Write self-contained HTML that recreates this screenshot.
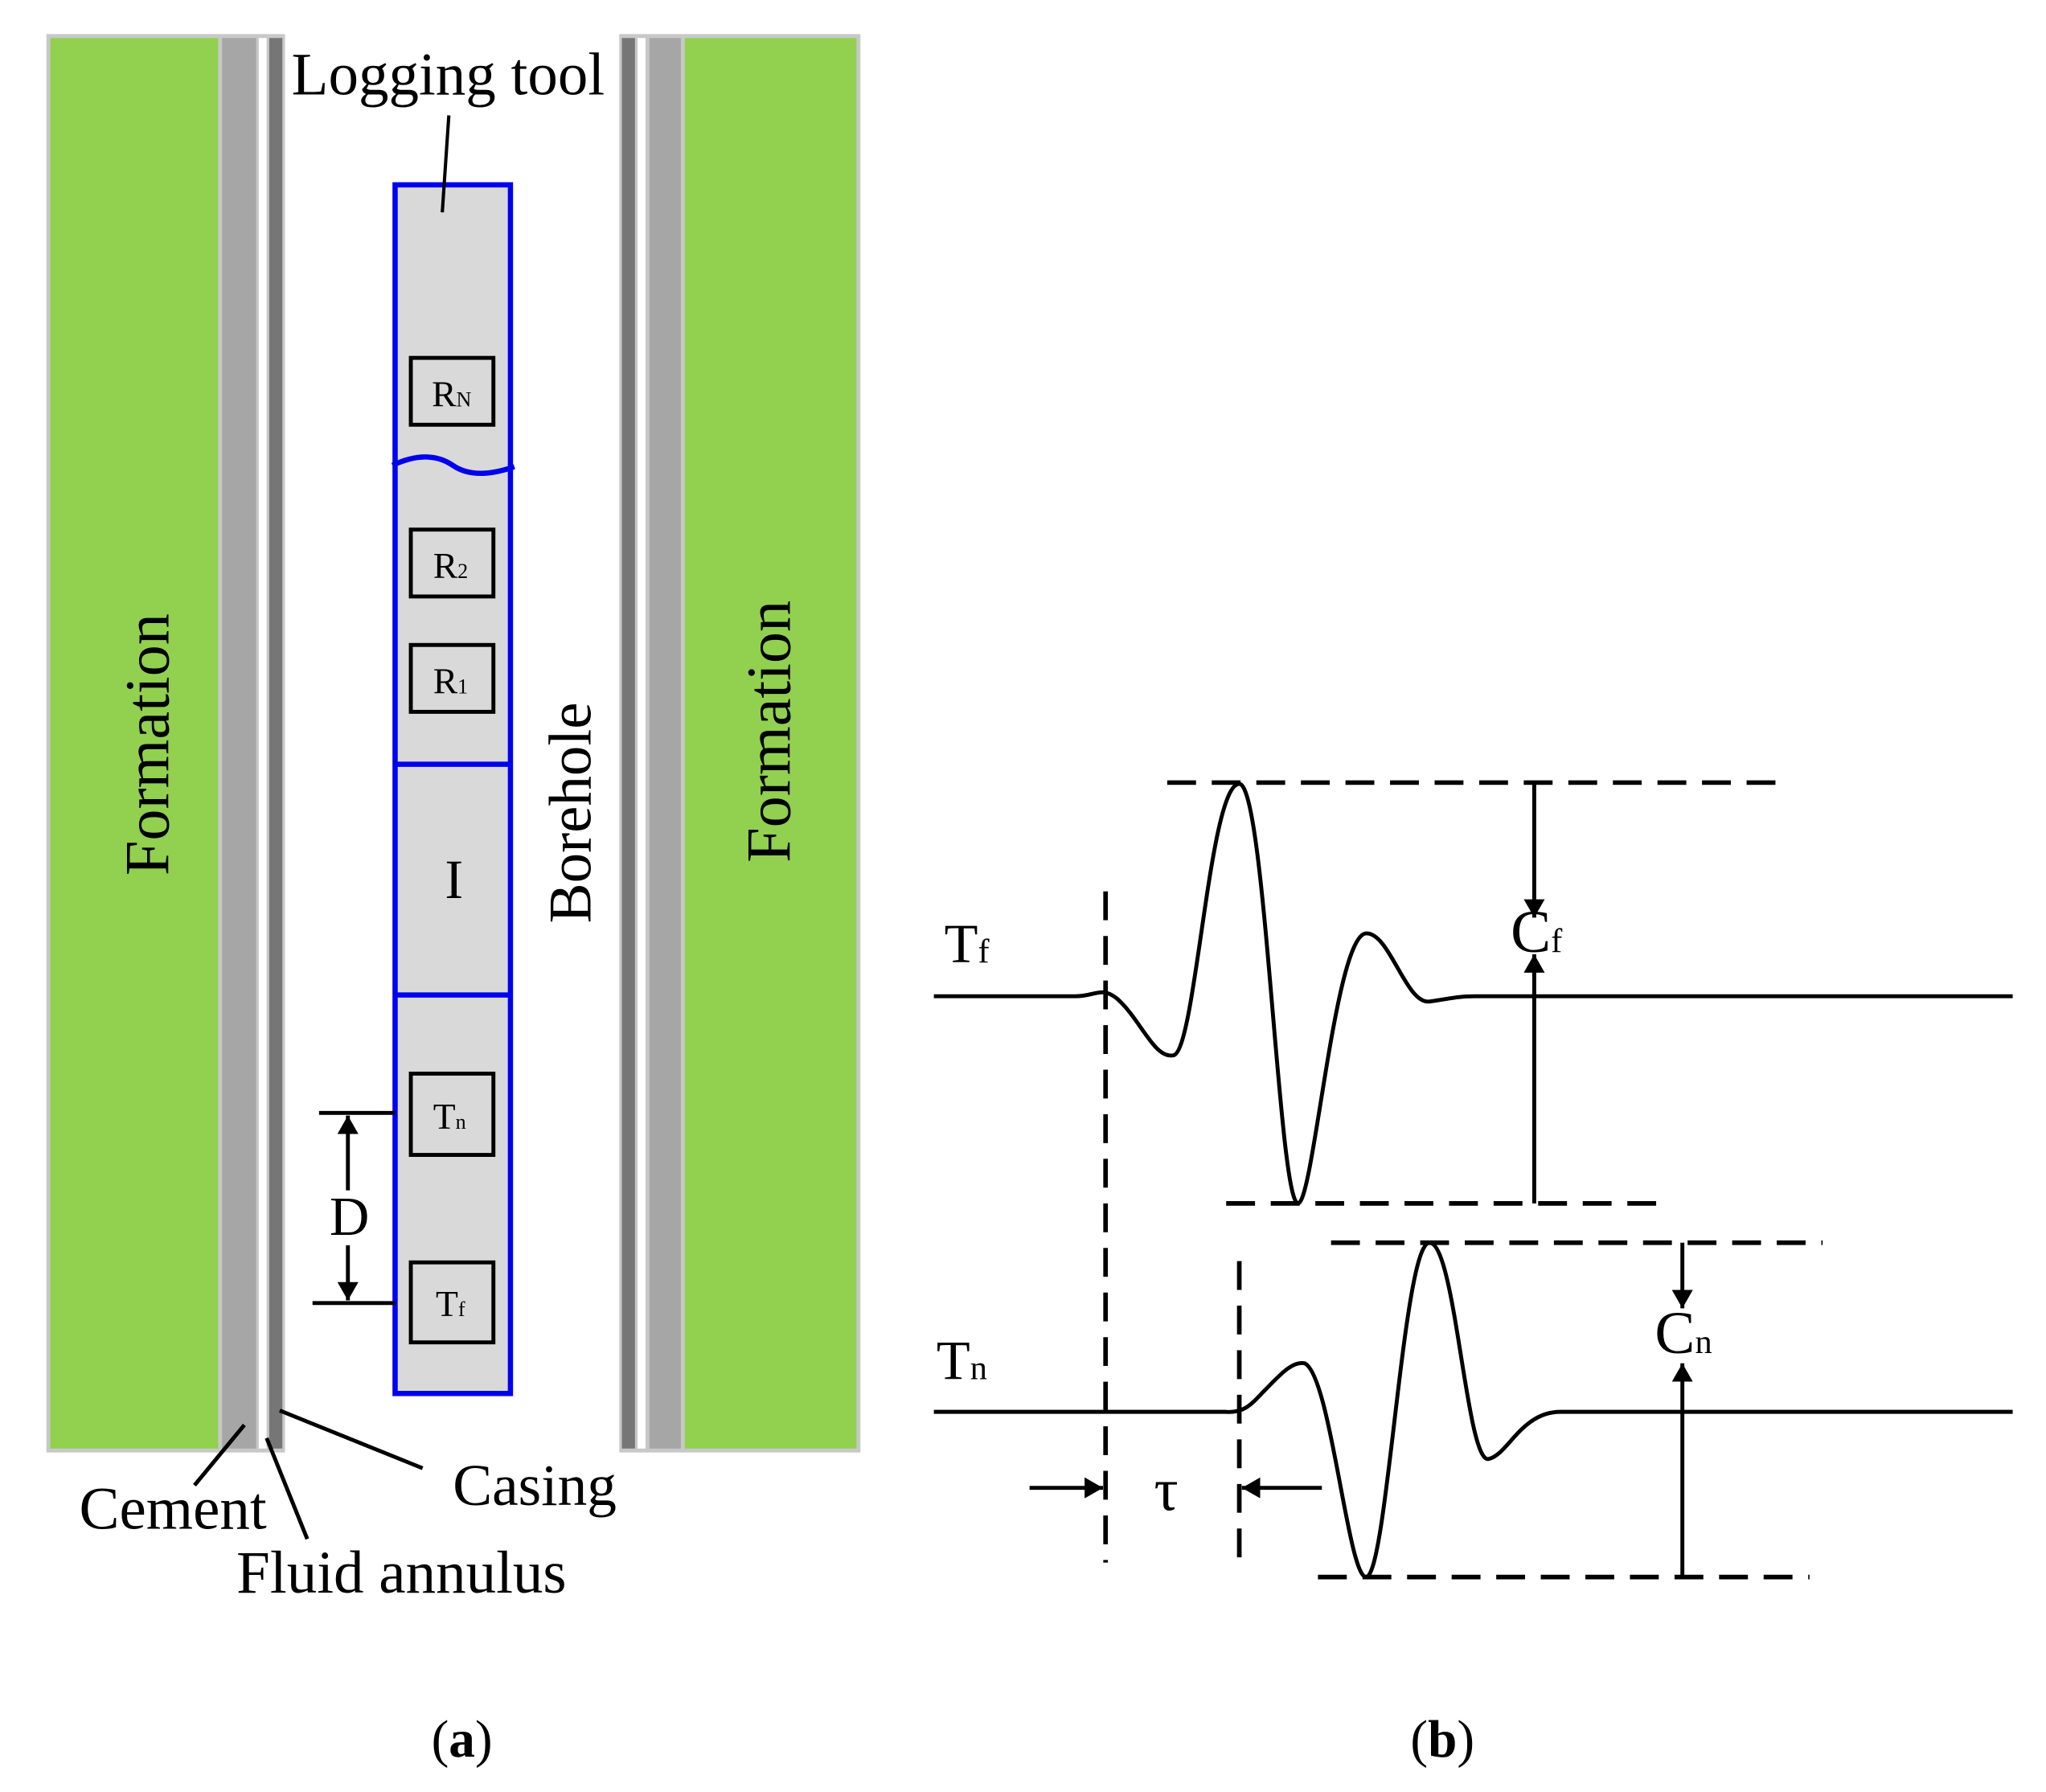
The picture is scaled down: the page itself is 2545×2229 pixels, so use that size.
<!DOCTYPE html>
<html><head><meta charset="utf-8"><style>
html,body{margin:0;padding:0;background:#fff}
svg{display:block}
text{font-family:"Liberation Serif",serif;fill:#000}
</style></head><body>
<svg width="2545" height="2229" viewBox="0 0 1560 1367" xmlns="http://www.w3.org/2000/svg">
<defs>
<marker id="ah" viewBox="0 0 10 10" refX="10" refY="5" markerWidth="14" markerHeight="16" markerUnits="userSpaceOnUse" orient="auto-start-reverse" preserveAspectRatio="none"><path d="M0,0L10,5L0,10z" fill="#000"/></marker>
</defs>
<rect x="35" y="26" width="182" height="1082" fill="#c8c8c8"/>
<rect x="38" y="29" width="128" height="1076" fill="#92d050"/>
<rect x="169" y="29" width="26" height="1076" fill="#a6a6a6"/>
<rect x="197" y="29" width="6" height="1076" fill="#fff"/>
<rect x="205" y="29" width="10" height="1076" fill="#767676"/>
<rect x="472" y="26" width="184" height="1082" fill="#c8c8c8"/>
<rect x="474" y="29" width="10" height="1076" fill="#767676"/>
<rect x="486" y="29" width="6" height="1076" fill="#fff"/>
<rect x="495" y="29" width="24" height="1076" fill="#a6a6a6"/>
<rect x="522" y="29" width="131" height="1076" fill="#92d050"/>
<text transform="translate(128,568) rotate(-90)" font-size="48" text-anchor="middle">Formation</text>
<text transform="translate(602,558) rotate(-90)" font-size="48" text-anchor="middle">Formation</text>
<text transform="translate(450,620) rotate(-90)" font-size="46" text-anchor="middle">Borehole</text>
<rect x="301" y="141" width="88" height="922" fill="#d9d9d9" stroke="#0000ee" stroke-width="4"/>
<path d="M299,355 C320,345 335,348 345,355 C358,364 375,362 392,356" fill="none" stroke="#0000ee" stroke-width="4"/>
<line x1="301" y1="583" x2="389" y2="583" stroke="#0000ee" stroke-width="4"/>
<line x1="301" y1="759" x2="389" y2="759" stroke="#0000ee" stroke-width="4"/>
<g fill="none" stroke="#000" stroke-width="3">
<rect x="313" y="273" width="63" height="51"/>
<rect x="313" y="404" width="63" height="51"/>
<rect x="313" y="492" width="63" height="51"/>
<rect x="313" y="819" width="63" height="62"/>
<rect x="313" y="963" width="63" height="61"/>
</g>
<text x="329" y="310" font-size="28">R<tspan font-size="16">N</tspan></text>
<text x="330" y="441" font-size="28">R<tspan font-size="16">2</tspan></text>
<text x="330" y="529" font-size="28">R<tspan font-size="16">1</tspan></text>
<text x="330" y="861" font-size="28">T<tspan font-size="16">n</tspan></text>
<text x="332" y="1004" font-size="28">T<tspan font-size="16">f</tspan></text>
<text x="346" y="685" font-size="42" text-anchor="middle">I</text>
<text x="222" y="72" font-size="46">Logging tool</text>
<line x1="342" y1="88" x2="337" y2="162" stroke="#000" stroke-width="2.5"/>
<g stroke="#000" stroke-width="3" fill="none">
<line x1="243" y1="849" x2="301" y2="849"/>
<line x1="238" y1="994" x2="301" y2="994"/>
<line x1="265" y1="851" x2="265" y2="908" marker-start="url(#ah)"/>
<line x1="265" y1="950" x2="265" y2="992" marker-end="url(#ah)"/>
</g>
<text x="251" y="942" font-size="42">D</text>
<g stroke="#000" stroke-width="3">
<line x1="186" y1="1087" x2="148" y2="1133"/>
<line x1="203" y1="1097" x2="234" y2="1174"/>
<line x1="213" y1="1076" x2="322" y2="1120"/>
</g>
<text x="60" y="1166" font-size="46">Cement</text>
<text x="345" y="1148" font-size="45">Casing</text>
<text x="180" y="1215" font-size="46">Fluid annulus</text>
<text x="352" y="1340" font-size="40" text-anchor="middle">(<tspan font-weight="bold">a</tspan>)</text>
<text x="1100" y="1340" font-size="40" text-anchor="middle">(<tspan font-weight="bold">b</tspan>)</text>
<g stroke="#000" stroke-width="3.5" stroke-dasharray="22 12" fill="none">
<line x1="890" y1="597" x2="1355" y2="597"/>
<line x1="935" y1="918" x2="1270" y2="918"/>
<line x1="1015" y1="948" x2="1390" y2="948"/>
<line x1="1005" y1="1203" x2="1380" y2="1203"/>
<line x1="843" y1="680" x2="843" y2="1192"/>
<line x1="945" y1="962" x2="945" y2="1192"/>
</g>
<g stroke="#000" stroke-width="3" fill="none">
<path d="M712,760 L820,760 C835,760 840,752 852,762 C870,778 880,808 895,805 C912,800 922,598 945,598 C965,598 975,920 990,918 C1002,915 1018,712 1042,712 C1060,712 1072,766 1090,764 C1105,762 1110,760 1125,760 L1535,760"/>
<path d="M712,1077 L935,1077 C950,1078 955,1070 965,1060 C975,1050 985,1038 995,1040 C1015,1050 1028,1205 1042,1203 C1058,1200 1070,948 1090,948 C1110,948 1118,1115 1135,1113 C1150,1110 1160,1077 1190,1077 L1535,1077"/>
<line x1="1170" y1="597" x2="1170" y2="700" marker-end="url(#ah)"/>
<line x1="1170" y1="918" x2="1170" y2="728" marker-end="url(#ah)"/>
<line x1="1283" y1="948" x2="1283" y2="998" marker-end="url(#ah)"/>
<line x1="1283" y1="1203" x2="1283" y2="1040" marker-end="url(#ah)"/>
<line x1="785" y1="1135" x2="841" y2="1135" marker-end="url(#ah)"/>
<line x1="1008" y1="1135" x2="947" y2="1135" marker-end="url(#ah)"/>
</g>
<text x="720" y="734" font-size="42">T<tspan font-size="26">f</tspan></text>
<text x="714" y="1052" font-size="42">T<tspan font-size="26">n</tspan></text>
<text x="1152" y="726" font-size="46">C<tspan font-size="26">f</tspan></text>
<text x="1262" y="1032" font-size="46">C<tspan font-size="26">n</tspan></text>
<text x="880" y="1152" font-size="46">τ</text>
</svg>
</body></html>
